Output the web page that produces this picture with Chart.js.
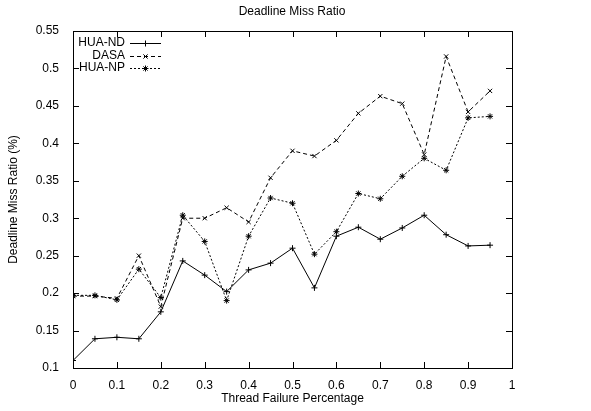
<!DOCTYPE html>
<html lang="en">
<head>
  <meta charset="UTF-8">
  <title>Deadline Miss Ratio</title>
  <script src="https://cdn.jsdelivr.net/npm/chart.js"></script>
  <style>
    html, body { margin: 0; padding: 0; background: #fff; }
    #wrap { width: 591px; height: 411px; }
  </style>
</head>
<body>
  <div id="wrap"><canvas id="chart"></canvas></div>
<script>
  const failure = [0, 0.05, 0.1, 0.15, 0.2, 0.25, 0.3, 0.35, 0.4, 0.45, 0.5, 0.55, 0.6, 0.65, 0.7, 0.75, 0.8, 0.85, 0.9, 0.95]
  const huaNd = [0.110, 0.139, 0.141, 0.139, 0.175, 0.243, 0.224, 0.202, 0.231, 0.240, 0.260, 0.207, 0.276, 0.288, 0.272, 0.287, 0.304, 0.278, 0.263, 0.264]
  const dasa = [0.196, 0.196, 0.193, 0.250, 0.182, 0.300, 0.300, 0.314, 0.295, 0.354, 0.390, 0.383, 0.404, 0.440, 0.463, 0.453, 0.385, 0.516, 0.442, 0.470]
  const huaNp = [0.197, 0.197, 0.191, 0.232, 0.194, 0.304, 0.269, 0.190, 0.276, 0.327, 0.320, 0.252, 0.282, 0.333, 0.326, 0.356, 0.380, 0.364, 0.434, 0.436]

  const font = 'Liberation Sans, Arial, sans-serif'
  const pts = (ys) => failure.map((x, i) => ({ x: x, y: ys[i] }))
  const fmt = (v) => String(parseFloat(Number(v).toFixed(2)))

  // gnuplot style frame with inward ticks on all four sides, plus title and legend
  const framePlugin = {
    id: 'frame',
    afterDraw(chart) {
      const ctx = chart.ctx
      const a = chart.chartArea
      const xs = chart.scales.x, ys = chart.scales.y
      ctx.save()
      ctx.strokeStyle = '#000'
      ctx.lineWidth = 1
      ctx.setLineDash([])
      ctx.strokeRect(a.left + 0.5, a.top + 0.5, a.right - a.left, a.bottom - a.top)
      ctx.beginPath()
      xs.ticks.forEach(t => {
        const px = Math.round(xs.getPixelForValue(t.value)) + 0.5
        ctx.moveTo(px, a.bottom); ctx.lineTo(px, a.bottom - 6)
        ctx.moveTo(px, a.top); ctx.lineTo(px, a.top + 6)
      })
      ys.ticks.forEach(t => {
        const py = Math.round(ys.getPixelForValue(t.value)) + 0.5
        ctx.moveTo(a.left, py); ctx.lineTo(a.left + 6, py)
        ctx.moveTo(a.right, py); ctx.lineTo(a.right - 6, py)
      })
      ctx.stroke()

      ctx.fillStyle = '#000'
      ctx.font = '12px ' + font
      ctx.textAlign = 'center'
      ctx.textBaseline = 'middle'
      ctx.fillText('Deadline Miss Ratio', 292, 12)

      // legend
      ctx.textAlign = 'right'
      chart.data.datasets.forEach((ds, i) => {
        const y = Math.round(43 + i * 12.5)
        ctx.fillText(ds.label, 125, y)
        ctx.beginPath()
        ctx.setLineDash(ds.borderDash || [])
        ctx.moveTo(130, y + 0.5); ctx.lineTo(161, y + 0.5)
        ctx.stroke()
        ctx.setLineDash([])
        Chart.helpers.drawPoint(ctx, { pointStyle: ds.pointStyle, radius: 3, borderWidth: 1 }, 145.5, y + 0.5)
      })
      ctx.restore()
    }
  }

  const common = { fill: false, borderColor: '#000', backgroundColor: '#000', borderWidth: 1, pointRadius: 3, pointBorderWidth: 1, tension: 0 }

  new Chart(document.getElementById('chart'), {
    type: 'line',
    data: {
      datasets: [
        { ...common, label: 'HUA-ND', data: pts(huaNd), pointStyle: 'cross' },
        { ...common, label: 'DASA', data: pts(dasa), pointStyle: 'crossRot', borderDash: [4, 3] },
        { ...common, label: 'HUA-NP', data: pts(huaNp), pointStyle: 'star', borderDash: [2, 2] }
      ]
    },
    options: {
      responsive: true,
      maintainAspectRatio: false,
      animation: false,
      layout: { padding: { top: 31, right: 79, left: 0, bottom: 0 } },
      plugins: { legend: { display: false }, title: { display: false }, tooltip: { enabled: false } },
      scales: {
        x: {
          type: 'linear', min: 0, max: 1,
          grid: { display: false }, border: { display: false },
          ticks: { stepSize: 0.1, color: '#000', font: { family: font, size: 12 }, padding: 2, maxRotation: 0, callback: fmt },
          title: { display: true, text: 'Thread Failure Percentage', color: '#000', font: { family: font, size: 12 }, padding: { top: 0, bottom: 5 } },
          afterFit(s) { s.height = 43 }
        },
        y: {
          type: 'linear', min: 0.1, max: 0.55,
          grid: { display: false }, border: { display: false },
          ticks: { stepSize: 0.05, color: '#000', font: { family: font, size: 12 }, padding: 6, callback: fmt },
          title: { display: true, text: 'Deadline Miss Ratio (%)', color: '#000', font: { family: font, size: 12 }, padding: { top: 6, bottom: 0 } },
          afterFit(s) { s.width = 73 }
        }
      }
    },
    plugins: [framePlugin]
  })
</script>
</body>
</html>
